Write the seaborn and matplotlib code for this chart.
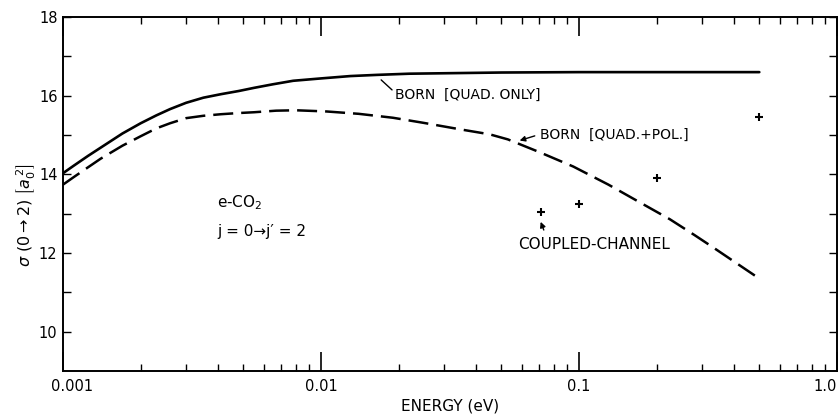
import numpy as np
import pandas as pd
import seaborn as sns
import matplotlib.pyplot as plt
import matplotlib.transforms as mtransforms
from matplotlib.ticker import LogLocator, FixedLocator, NullFormatter

# Born, quadrupole only (solid)
energy_quad = [0.001, 0.0011, 0.00125, 0.0014, 0.0017, 0.002, 0.0023, 0.0026,
               0.003, 0.0035, 0.0041, 0.0048, 0.0055, 0.0065, 0.0078, 0.01,
               0.013, 0.0165, 0.022, 0.029, 0.05, 0.1, 0.5]
sigma_quad = [14.03, 14.22, 14.47, 14.68, 15.04, 15.30, 15.50, 15.66,
              15.82, 15.95, 16.04, 16.12, 16.20, 16.29, 16.38, 16.44,
              16.50, 16.53, 16.56, 16.57, 16.59, 16.60, 16.60]

# Born, quadrupole + polarization (dashed)
energy_pol = [0.001, 0.0011, 0.00125, 0.0014, 0.0017, 0.002, 0.0023, 0.0026,
              0.003, 0.0035, 0.0041, 0.0048, 0.0055, 0.0067, 0.008, 0.0105,
              0.014, 0.019, 0.025, 0.035, 0.045, 0.053, 0.07, 0.095, 0.13,
              0.172, 0.225, 0.28, 0.33, 0.4, 0.49]
sigma_pol = [13.74, 13.93, 14.18, 14.40, 14.73, 14.97, 15.17, 15.30,
             15.43, 15.49, 15.53, 15.56, 15.58, 15.62, 15.63, 15.60,
             15.54, 15.44, 15.31, 15.14, 15.02, 14.89, 14.57, 14.20, 13.74,
             13.29, 12.86, 12.46, 12.15, 11.78, 11.39]

# coupled-channel points
energy_cc = [0.071, 0.1, 0.2, 0.5]
sigma_cc = [13.04, 13.25, 13.90, 15.45]

x_ticks = [0.001, 0.01, 0.1, 1.0]
x_tick_labels = ['0.001', '0.01', '0.1', '1.0']
y_ticks = [10, 12, 14, 16, 18]

sns.set_theme(style='ticks', rc={'text.color': 'black', 'axes.labelcolor': 'black',
                                 'xtick.color': 'black', 'ytick.color': 'black',
                                 'axes.edgecolor': 'black'})
plt.rcParams['font.family'] = ['DejaVu Sans']

fig = plt.figure(figsize=(8.4, 4.16), dpi=100)
ax = fig.add_axes([0.075, 0.108, 0.9214, 0.851])

df_quad = pd.DataFrame({'energy': energy_quad, 'sigma': sigma_quad})
df_pol = pd.DataFrame({'energy': energy_pol, 'sigma': sigma_pol})
df_cc = pd.DataFrame({'energy': energy_cc, 'sigma': sigma_cc})

sns.lineplot(data=df_quad, x='energy', y='sigma', ax=ax, color='black',
             linewidth=1.9)
sns.lineplot(data=df_pol, x='energy', y='sigma', ax=ax, color='black',
             linewidth=1.8, linestyle=(0, (8, 3.2)))
sns.scatterplot(data=df_cc, x='energy', y='sigma', ax=ax, color='black',
                marker='+', s=40, linewidth=1.5)

ax.set_xscale('log')
ax.set_xlim(0.001, 1.0)
ax.set_ylim(9, 18)

ax.xaxis.set_major_locator(FixedLocator(x_ticks))
ax.set_xticklabels(x_tick_labels)
ax.xaxis.set_minor_locator(LogLocator(base=10, subs=np.arange(2, 10)))
ax.xaxis.set_minor_formatter(NullFormatter())
ax.set_yticks(y_ticks)
ax.yaxis.set_minor_locator(FixedLocator([11, 13, 15, 17]))

ax.tick_params(axis='x', which='major', direction='in', length=14, width=1.2,
               top=True, bottom=True, labelsize=10.5, pad=6)
ax.tick_params(axis='x', which='minor', direction='in', length=5, width=1.0,
               top=True, bottom=True)
ax.tick_params(axis='y', which='both', direction='in', length=6, width=1.0,
               left=True, right=True, labelsize=10.5, pad=4)

# first and last x labels sit inside the frame edges
labels = ax.get_xticklabels()
labels[0].set_transform(labels[0].get_transform() +
                        mtransforms.ScaledTranslation(9 / 100, 0, fig.dpi_scale_trans))
labels[-1].set_horizontalalignment('right')

for s in ax.spines.values():
    s.set_linewidth(1.4)

ax.set_xlabel('ENERGY (eV)', fontsize=11, labelpad=3)
ax.set_ylabel(r'$\sigma$ (0$\rightarrow$2) $\left[a_0^{\,2}\right]$', fontsize=11.5)
ax.yaxis.set_label_coords(-0.032, 0.44)

# annotations
ax.text(0.0194, 16.03, 'BORN  [QUAD. ONLY]', fontsize=10, ha='left', va='center')
ax.annotate('', xy=(0.0168, 16.45), xytext=(0.0192, 16.1),
            arrowprops=dict(arrowstyle='-', lw=1.0, color='black'))

ax.text(0.0706, 15.01, 'BORN  [QUAD.+POL.]', fontsize=10, ha='left', va='center')
ax.annotate('', xy=(0.0575, 14.84), xytext=(0.069, 15.0),
            arrowprops=dict(arrowstyle='-|>', lw=1.0, color='black',
                            mutation_scale=8))

ax.text(0.0582, 12.23, 'COUPLED-CHANNEL', fontsize=11, ha='left', va='center')
ax.annotate('', xy=(0.0704, 12.86), xytext=(0.0737, 12.52),
            arrowprops=dict(arrowstyle='-|>', lw=1.0, color='black',
                            mutation_scale=8))

ax.text(0.00395, 13.27, 'e-CO$_2$', fontsize=11, ha='left', va='center')
ax.text(0.00395, 12.56, 'j = 0→j′ = 2', fontsize=11, ha='left', va='center')

fig.savefig('out.png', dpi=100)
